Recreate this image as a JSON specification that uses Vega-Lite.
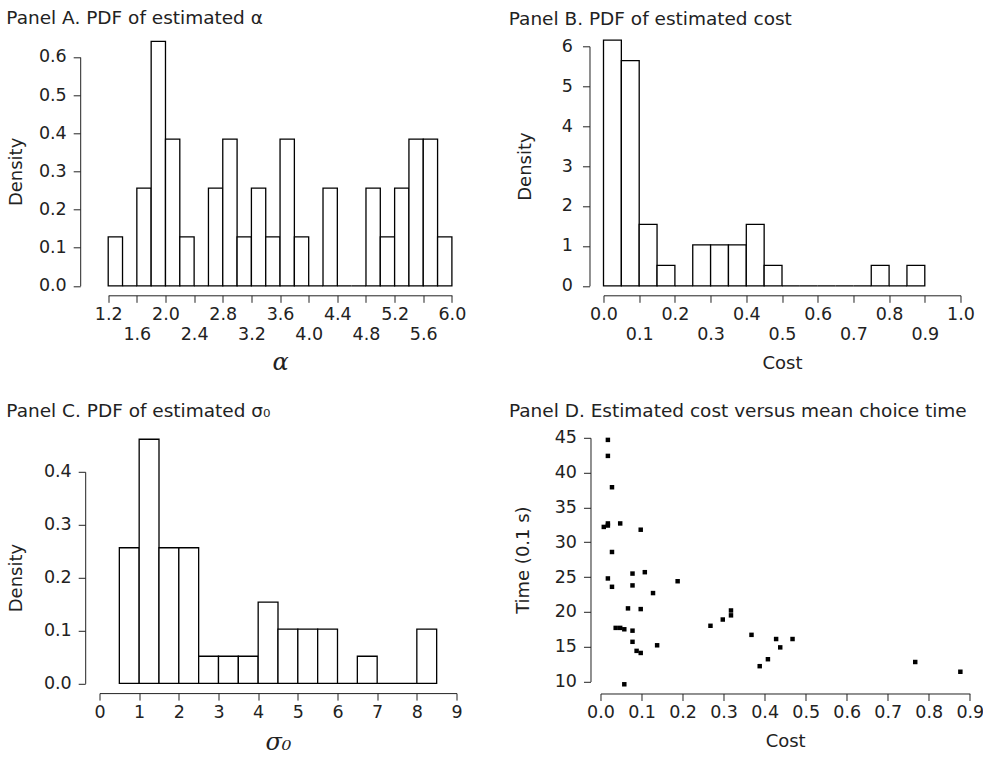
{
  "$schema": "https://vega.github.io/schema/vega-lite/v6.json",
  "background": "white",
  "padding": {"left": 5.5, "top": 8.3, "right": 0, "bottom": 0},
  "config": {
    "font": "DejaVu Sans",
    "view": {"stroke": null},
    "axis": {
      "grid": false,
      "domainColor": "#222", "tickColor": "#222", "labelColor": "#222", "titleColor": "#222",
      "labelFont": "DejaVu Sans", "titleFont": "DejaVu Sans",
      "labelFontSize": 17.5, "titleFontSize": 18, "titleFontWeight": "normal",
      "tickSize": 7, "domainWidth": 1, "tickWidth": 1,
      "labelOverlap": false, "labelFlush": false, "labelBound": false
    },
    "title": {"font": "DejaVu Sans", "fontSize": 18.5, "fontWeight": "normal", "color": "#222", "anchor": "start", "frame": "bounds", "baseline": "alphabetic"}
  },
  "columns": 2,
  "align": "none",
  "spacing": {"row": 26.5, "column": 42},
  "concat": [
    {
      "width": 353, "height": 239.5,
      "title": {"text": "Panel A. PDF of estimated α", "offset": 13, "dx": -1},
      "data": {"values": [
        {"lo": 1.2, "hi": 1.4, "density": 0.1282},
        {"lo": 1.4, "hi": 1.6, "density": 0},
        {"lo": 1.6, "hi": 1.8, "density": 0.2564},
        {"lo": 1.8, "hi": 2.0, "density": 0.6410},
        {"lo": 2.0, "hi": 2.2, "density": 0.3846},
        {"lo": 2.2, "hi": 2.4, "density": 0.1282},
        {"lo": 2.4, "hi": 2.6, "density": 0},
        {"lo": 2.6, "hi": 2.8, "density": 0.2564},
        {"lo": 2.8, "hi": 3.0, "density": 0.3846},
        {"lo": 3.0, "hi": 3.2, "density": 0.1282},
        {"lo": 3.2, "hi": 3.4, "density": 0.2564},
        {"lo": 3.4, "hi": 3.6, "density": 0.1282},
        {"lo": 3.6, "hi": 3.8, "density": 0.3846},
        {"lo": 3.8, "hi": 4.0, "density": 0.1282},
        {"lo": 4.0, "hi": 4.2, "density": 0},
        {"lo": 4.2, "hi": 4.4, "density": 0.2564},
        {"lo": 4.4, "hi": 4.6, "density": 0},
        {"lo": 4.6, "hi": 4.8, "density": 0},
        {"lo": 4.8, "hi": 5.0, "density": 0.2564},
        {"lo": 5.0, "hi": 5.2, "density": 0.1282},
        {"lo": 5.2, "hi": 5.4, "density": 0.2564},
        {"lo": 5.4, "hi": 5.6, "density": 0.3846},
        {"lo": 5.6, "hi": 5.8, "density": 0.3846},
        {"lo": 5.8, "hi": 6.0, "density": 0.1282}
      ]},
      "mark": {"type": "rect", "fill": "white", "stroke": "black", "strokeWidth": 1.3},
      "encoding": {
        "x": {"field": "lo", "type": "quantitative",
          "scale": {"domain": [1.2, 6.0], "range": [8.7, 352.4], "nice": false, "zero": false},
          "axis": {"values": [1.2, 1.6, 2.0, 2.4, 2.8, 3.2, 3.6, 4.0, 4.4, 4.8, 5.2, 5.6, 6.0], "format": ".1f",
            "labelExpr": "round((datum.value - 1.2) / 0.4) % 2 == 1 ? ['', datum.label] : datum.label",
            "labelLineHeight": 20, "offset": 9.5, "labelPadding": 3,
            "title": "α", "titleFont": "DejaVu Serif", "titleFontStyle": "italic", "titleFontSize": 24, "titlePadding": 8}},
        "x2": {"field": "hi"},
        "y": {"field": "density", "type": "quantitative",
          "scale": {"domain": [0, 0.6], "range": [239.5, 10.7], "nice": false},
          "axis": {"values": [0, 0.1, 0.2, 0.3, 0.4, 0.5, 0.6], "format": ".1f", "offset": 19.3, "labelPadding": 7, "title": "Density", "titlePadding": 13}},
        "y2": {"datum": 0}
      }
    },
    {
      "width": 357, "height": 239.5,
      "title": {"text": "Panel B. PDF of estimated cost", "offset": 9, "dx": -7.6},
      "data": {"values": [
        {"lo": 0.00, "hi": 0.05, "density": 6.154},
        {"lo": 0.05, "hi": 0.10, "density": 5.641},
        {"lo": 0.10, "hi": 0.15, "density": 1.538},
        {"lo": 0.15, "hi": 0.20, "density": 0.513},
        {"lo": 0.20, "hi": 0.25, "density": 0},
        {"lo": 0.25, "hi": 0.30, "density": 1.026},
        {"lo": 0.30, "hi": 0.35, "density": 1.026},
        {"lo": 0.35, "hi": 0.40, "density": 1.026},
        {"lo": 0.40, "hi": 0.45, "density": 1.538},
        {"lo": 0.45, "hi": 0.50, "density": 0.513},
        {"lo": 0.50, "hi": 0.55, "density": 0},
        {"lo": 0.55, "hi": 0.60, "density": 0},
        {"lo": 0.60, "hi": 0.65, "density": 0},
        {"lo": 0.65, "hi": 0.70, "density": 0},
        {"lo": 0.70, "hi": 0.75, "density": 0},
        {"lo": 0.75, "hi": 0.80, "density": 0.513},
        {"lo": 0.80, "hi": 0.85, "density": 0},
        {"lo": 0.85, "hi": 0.90, "density": 0.513}
      ]},
      "mark": {"type": "rect", "fill": "white", "stroke": "black", "strokeWidth": 1.3},
      "encoding": {
        "x": {"field": "lo", "type": "quantitative",
          "scale": {"domain": [0, 1], "nice": false, "zero": false},
          "axis": {"values": [0, 0.1, 0.2, 0.3, 0.4, 0.5, 0.6, 0.7, 0.8, 0.9, 1.0], "format": ".1f",
            "labelExpr": "round(datum.value * 10) % 2 == 1 ? ['', datum.label] : datum.label",
            "labelLineHeight": 20, "offset": 9.5, "labelPadding": 3, "title": "Cost", "titlePadding": 12}},
        "x2": {"field": "hi"},
        "y": {"field": "density", "type": "quantitative",
          "scale": {"domain": [0, 6], "nice": false},
          "axis": {"values": [0, 1, 2, 3, 4, 5, 6], "format": "d", "offset": 14, "labelPadding": 10, "title": "Density", "titlePadding": 27}},
        "y2": {"datum": 0}
      }
    },
    {
      "width": 357, "height": 211.6,
      "title": {"text": "Panel C. PDF of estimated σ₀", "offset": 18, "dx": -1},
      "data": {"values": [
        {"lo": 0.5, "hi": 1.0, "density": 0.2564},
        {"lo": 1.0, "hi": 1.5, "density": 0.4615},
        {"lo": 1.5, "hi": 2.0, "density": 0.2564},
        {"lo": 2.0, "hi": 2.5, "density": 0.2564},
        {"lo": 2.5, "hi": 3.0, "density": 0.0513},
        {"lo": 3.0, "hi": 3.5, "density": 0.0513},
        {"lo": 3.5, "hi": 4.0, "density": 0.0513},
        {"lo": 4.0, "hi": 4.5, "density": 0.1538},
        {"lo": 4.5, "hi": 5.0, "density": 0.1026},
        {"lo": 5.0, "hi": 5.5, "density": 0.1026},
        {"lo": 5.5, "hi": 6.0, "density": 0.1026},
        {"lo": 6.0, "hi": 6.5, "density": 0},
        {"lo": 6.5, "hi": 7.0, "density": 0.0513},
        {"lo": 7.0, "hi": 7.5, "density": 0},
        {"lo": 7.5, "hi": 8.0, "density": 0},
        {"lo": 8.0, "hi": 8.5, "density": 0.1026}
      ]},
      "mark": {"type": "rect", "fill": "white", "stroke": "black", "strokeWidth": 1.3},
      "encoding": {
        "x": {"field": "lo", "type": "quantitative",
          "scale": {"domain": [0, 9], "nice": false, "zero": false},
          "axis": {"values": [0, 1, 2, 3, 4, 5, 6, 7, 8, 9], "format": "d", "offset": 9.7, "labelPadding": 3,
            "title": "σ₀", "titleFont": "DejaVu Serif", "titleFontStyle": "italic", "titleFontSize": 24, "titlePadding": 10}},
        "x2": {"field": "hi"},
        "y": {"field": "density", "type": "quantitative",
          "scale": {"domain": [0, 0.4], "nice": false},
          "axis": {"values": [0, 0.1, 0.2, 0.3, 0.4], "format": ".1f", "offset": 14.3, "labelPadding": 7, "title": "Density", "titlePadding": 18}},
        "y2": {"datum": 0}
      }
    },
    {
      "width": 369.3, "height": 243.7,
      "title": {"text": "Panel D. Estimated cost versus mean choice time", "offset": 8, "dx": -5.3},
      "data": {"values": [
        {"cost": 0.018, "time": 44.7}, {"cost": 0.018, "time": 42.4}, {"cost": 0.028, "time": 37.9},
        {"cost": 0.008, "time": 32.2}, {"cost": 0.018, "time": 32.7}, {"cost": 0.018, "time": 32.4},
        {"cost": 0.048, "time": 32.7}, {"cost": 0.098, "time": 31.8}, {"cost": 0.028, "time": 28.6},
        {"cost": 0.018, "time": 24.8}, {"cost": 0.028, "time": 23.6}, {"cost": 0.078, "time": 25.5},
        {"cost": 0.108, "time": 25.7}, {"cost": 0.078, "time": 23.8}, {"cost": 0.188, "time": 24.4},
        {"cost": 0.128, "time": 22.7}, {"cost": 0.067, "time": 20.5}, {"cost": 0.098, "time": 20.4},
        {"cost": 0.037, "time": 17.7}, {"cost": 0.048, "time": 17.7}, {"cost": 0.058, "time": 17.5},
        {"cost": 0.078, "time": 17.3}, {"cost": 0.078, "time": 15.7}, {"cost": 0.088, "time": 14.4},
        {"cost": 0.098, "time": 14.1}, {"cost": 0.138, "time": 15.2}, {"cost": 0.058, "time": 9.6},
        {"cost": 0.268, "time": 18.0}, {"cost": 0.298, "time": 18.9}, {"cost": 0.318, "time": 20.2},
        {"cost": 0.318, "time": 19.5}, {"cost": 0.368, "time": 16.7}, {"cost": 0.388, "time": 12.2},
        {"cost": 0.408, "time": 13.2}, {"cost": 0.428, "time": 16.1}, {"cost": 0.438, "time": 14.9},
        {"cost": 0.468, "time": 16.1}, {"cost": 0.767, "time": 12.8}, {"cost": 0.877, "time": 11.4}
      ]},
      "mark": {"type": "square", "filled": true, "color": "black", "size": 20, "opacity": 1},
      "encoding": {
        "x": {"field": "cost", "type": "quantitative",
          "scale": {"domain": [0, 0.9], "nice": false, "zero": false},
          "axis": {"values": [0, 0.1, 0.2, 0.3, 0.4, 0.5, 0.6, 0.7, 0.8, 0.9], "format": ".1f", "offset": 12, "labelPadding": 3, "title": "Cost", "titlePadding": 12}},
        "y": {"field": "time", "type": "quantitative",
          "scale": {"domain": [10, 45], "nice": false, "zero": false},
          "axis": {"values": [10, 15, 20, 25, 30, 35, 40, 45], "format": "d", "offset": 10, "labelPadding": 7, "title": "Time (0.1 s)", "titlePadding": 22}}
      }
    }
  ]
}
